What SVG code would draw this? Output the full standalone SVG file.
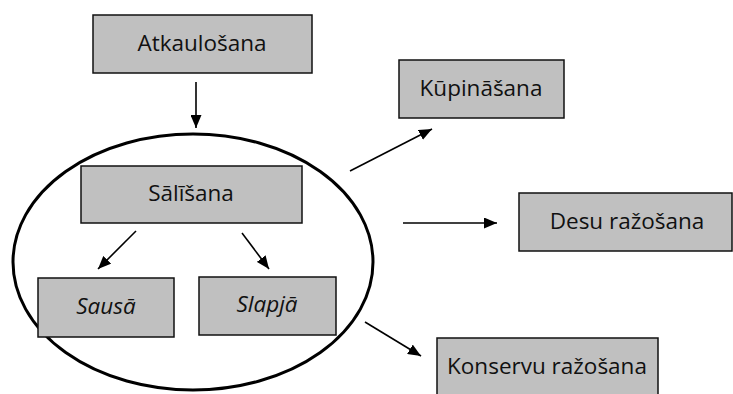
<svg xmlns="http://www.w3.org/2000/svg" width="733" height="394" viewBox="0 0 733 394">
<defs>
<marker id="ah" markerWidth="13" markerHeight="11" refX="13" refY="5.5" orient="auto" markerUnits="userSpaceOnUse">
<path d="M0,0 L13,5.5 L0,11 Z" fill="#000"/>
</marker>
<style>
.box{fill:#c0c0c0;stroke:#111;stroke-width:1.5}
.t{font-family:"Open Sans","Noto Sans",sans-serif;font-size:22.5px;fill:#111;text-anchor:middle}
.i{font-style:italic}
.c{stroke:#000;stroke-width:1.6;fill:none;marker-end:url(#ah)}
</style>
</defs>
<rect width="733" height="394" fill="#fff"/>
<ellipse id="group" cx="193" cy="262" rx="180" ry="128" fill="none" stroke="#000" stroke-width="3"/>
<g id="connectors">
<line class="c" x1="196" y1="82" x2="196" y2="128"/>
<line class="c" x1="136" y1="231" x2="98" y2="269"/>
<line class="c" x1="242" y1="233" x2="269" y2="269"/>
<line class="c" x1="350" y1="171" x2="432" y2="129"/>
<line class="c" x1="403" y1="223" x2="497" y2="223"/>
<line class="c" x1="365" y1="322" x2="421" y2="356"/>
</g>
<g id="atkaulosana"><rect class="box" x="93" y="15" width="219" height="58"/><text class="t" x="202" y="51">Atkaulošana</text></g>
<g id="salisana"><rect class="box" x="81" y="166" width="221" height="57"/><text class="t" x="191" y="201">Sālīšana</text></g>
<g id="sausa"><rect class="box" x="38" y="278" width="136" height="59"/><text class="t i" x="106" y="314">Sausā</text></g>
<g id="slapja"><rect class="box" x="199" y="277" width="137" height="58"/><text class="t i" x="267" y="312">Slapjā</text></g>
<g id="kupinasana"><rect class="box" x="399" y="60" width="165" height="58"/><text class="t" x="481" y="96">Kūpināšana</text></g>
<g id="desu"><rect class="box" x="519" y="193" width="213" height="58"/><text class="t" x="627" y="229">Desu ražošana</text></g>
<g id="konservu"><rect class="box" x="437" y="338" width="221" height="60"/><text class="t" x="547" y="374">Konservu ražošana</text></g>
</svg>
